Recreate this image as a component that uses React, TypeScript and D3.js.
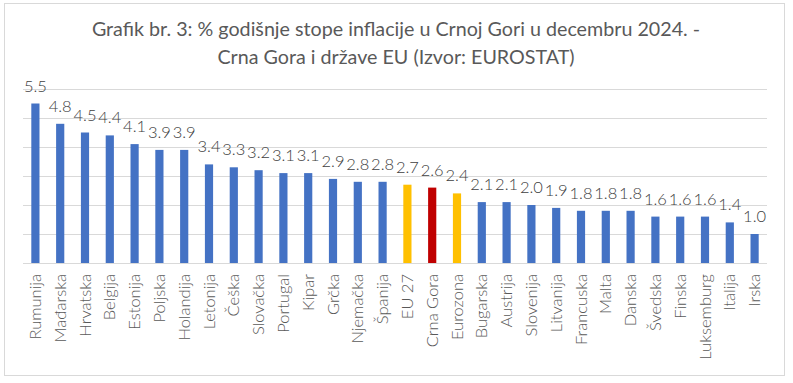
import React from "react";
import * as d3 from "d3";

const categories = ["Rumunija","Mađarska","Hrvatska","Belgija","Estonija","Poljska","Holandija","Letonija","Češka","Slovačka","Portugal","Kipar","Grčka","Njemačka","Španija","EU 27","Crna Gora","Eurozona","Bugarska","Austrija","Slovenija","Litvanija","Francuska","Malta","Danska","Švedska","Finska","Luksemburg","Italija","Irska"];
const values = [5.5,4.8,4.5,4.4,4.1,3.9,3.9,3.4,3.3,3.2,3.1,3.1,2.9,2.8,2.8,2.7,2.6,2.4,2.1,2.1,2.0,1.9,1.8,1.8,1.8,1.6,1.6,1.6,1.4,1.0];
const titleLines = ["Grafik br. 3: % godišnje stope inflacije u Crnoj Gori u decembru 2024. -","Crna Gora i države EU (Izvor: EUROSTAT)"];
const gridTicks = [0,1,2,3,4,5,6];

const W = 793, H = 383;
const FONT = "Lato, 'Open Sans', sans-serif";

function colorFor(c: string) {
  if (c === "Crna Gora") return "#C00000";
  if (c === "EU 27" || c === "Eurozona") return "#FFC000";
  return "#4472C4";
}

export default function App() {
  const x = d3.scaleBand<string>().domain(categories).range([23, 767]).paddingInner(0.67).paddingOuter(0.335);
  const y = d3.scaleLinear().domain([0, 6]).range([263, 89]);
  return (
    <svg width={W} height={H} style={{ position: "absolute", left: 0, top: 0 }} fontFamily={FONT}>
      <rect x={0} y={0} width={W} height={H} fill="#fff" />
      <rect x={4.5} y={3.5} width={780} height={372} fill="#fff" stroke="#d9d9d9" />
      {titleLines.map((t, i) => (
        <text key={i} x={396} y={36 + i * 28} textAnchor="middle" fontSize={19.7} fill="#595959">{t}</text>
      ))}
      {gridTicks.map(t => (
        <line key={t} x1={23} x2={767} y1={Math.round(y(t)) + 0.5} y2={Math.round(y(t)) + 0.5} stroke="#d9d9d9" />
      ))}
      {categories.map((c, i) => {
        const bx = x(c)!;
        const v = values[i];
        return (
          <g key={c}>
            <rect x={bx} y={y(v)} width={x.bandwidth()} height={y(0) - y(v)} fill={colorFor(c)} />
            <text x={bx + x.bandwidth() / 2} y={y(v) - 12} textAnchor="middle" fontSize={16.5} fontWeight={300} fill="#404040">{v.toFixed(1)}</text>
            <text transform={`translate(${bx + x.bandwidth() / 2 + 5.5},${274}) rotate(-90)`} textAnchor="end" fontSize={16.5} fontWeight={300} fill="#595959">{c}</text>
          </g>
        );
      })}
    </svg>
  );
}
